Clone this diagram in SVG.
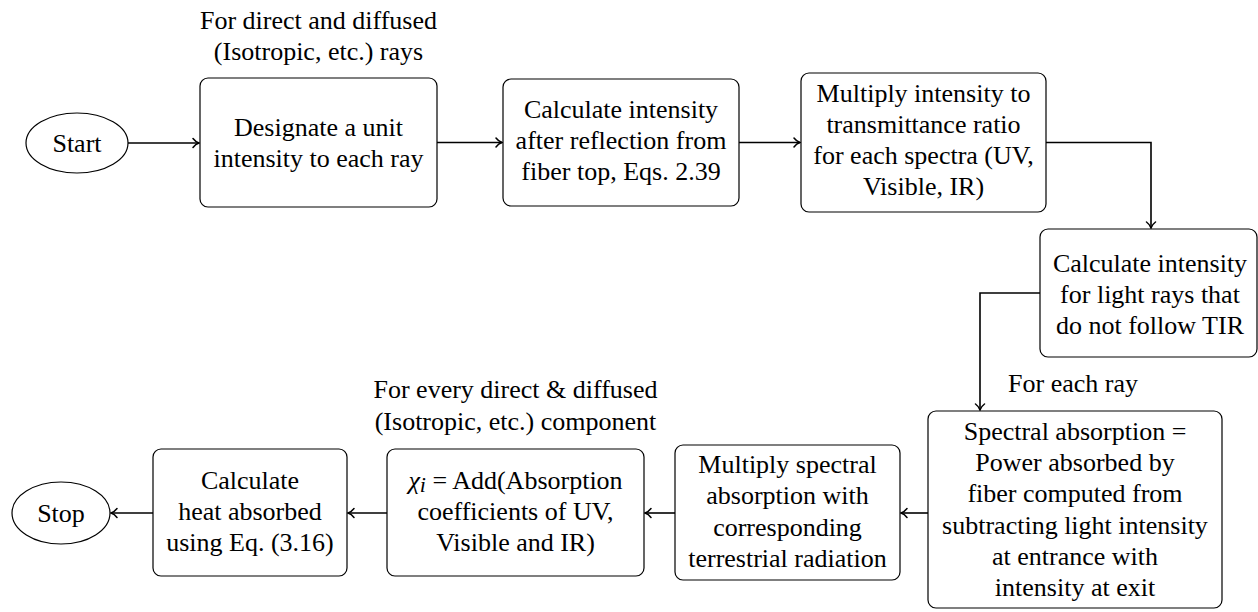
<svg xmlns="http://www.w3.org/2000/svg" width="1258" height="612" viewBox="0 0 1258 612">
<style>
  .box { fill: #fff; stroke: #000; stroke-width: 1.2; }
  .t { font-family: 'Liberation Serif', 'Times New Roman', serif; font-size: 26px; fill: #000; text-anchor: middle; }
  .c { fill: none; stroke: #000; stroke-width: 1.6; marker-end: url(#arr); }
</style>
<defs>
  <marker id="arr" viewBox="-7 -6 9 12" refX="0" refY="0" markerWidth="9" markerHeight="12" markerUnits="userSpaceOnUse" orient="auto">
    <path d="M-6,-4.5 C-4,-1.8 -1.8,-0.6 0,0 C-1.8,0.6 -4,1.8 -6,4.5" fill="none" stroke="#000" stroke-width="1.5" stroke-linecap="round"/>
  </marker>
</defs>
<rect width="1258" height="612" fill="#fff"/>

<g id="connectors">
  <path class="c" d="M128,143 H199"/>
  <path class="c" d="M437,142.5 H502"/>
  <path class="c" d="M739,142.5 H800"/>
  <path class="c" d="M1046,142.5 H1151 V228"/>
  <path class="c" d="M1040,293 H980 V410"/>
  <path class="c" d="M928,513 H901"/>
  <path class="c" d="M675,513 H645"/>
  <path class="c" d="M387,513 H348"/>
  <path class="c" d="M153,513 H111"/>
</g>

<g id="start">
  <ellipse class="box" cx="77" cy="143" rx="51" ry="30"/>
  <text class="t" x="77" y="151.5" font-family="Liberation Serif">Start</text>
</g>

<g id="label-direct" font-family="Liberation Serif">
  <text class="t" x="318.5" y="29">For direct and diffused</text>
  <text class="t" x="318.5" y="60">(Isotropic, etc.) rays</text>
</g>

<g id="box1" font-family="Liberation Serif">
  <rect class="box" x="200" y="78" width="237" height="129" rx="8"/>
  <text class="t" x="318.5" y="135.5">Designate a unit</text>
  <text class="t" x="318.5" y="166.5">intensity to each ray</text>
</g>

<g id="box2" font-family="Liberation Serif">
  <rect class="box" x="503" y="79" width="236" height="127" rx="8"/>
  <text class="t" x="621" y="118">Calculate intensity</text>
  <text class="t" x="621" y="149">after reflection from</text>
  <text class="t" x="621" y="180">fiber top, Eqs. 2.39</text>
</g>

<g id="box3" font-family="Liberation Serif">
  <rect class="box" x="801" y="73" width="245" height="139" rx="8"/>
  <text class="t" x="923.5" y="101.5">Multiply intensity to</text>
  <text class="t" x="923.5" y="132.8">transmittance ratio</text>
  <text class="t" x="923.5" y="164">for each spectra (UV,</text>
  <text class="t" x="923.5" y="195.3">Visible, IR)</text>
</g>

<g id="box4" font-family="Liberation Serif">
  <rect class="box" x="1040" y="229" width="217" height="128" rx="8"/>
  <text class="t" x="1150" y="271.5">Calculate intensity</text>
  <text class="t" x="1150" y="302.5">for light rays that</text>
  <text class="t" x="1150" y="333.5">do not follow TIR</text>
</g>

<g id="label-each" font-family="Liberation Serif">
  <text class="t" x="1073" y="392">For each ray</text>
</g>

<g id="box5" font-family="Liberation Serif">
  <rect class="box" x="928" y="411" width="294" height="197" rx="8"/>
  <text class="t" x="1075" y="439.5">Spectral absorption =</text>
  <text class="t" x="1075" y="471">Power absorbed by</text>
  <text class="t" x="1075" y="502.2">fiber computed from</text>
  <text class="t" x="1075" y="533.5">subtracting light intensity</text>
  <text class="t" x="1075" y="564.8">at entrance with</text>
  <text class="t" x="1075" y="596">intensity at exit</text>
</g>

<g id="box6" font-family="Liberation Serif">
  <rect class="box" x="675" y="445" width="225" height="135" rx="8"/>
  <text class="t" x="787.5" y="473">Multiply spectral</text>
  <text class="t" x="787.5" y="504.3">absorption with</text>
  <text class="t" x="787.5" y="535.6">corresponding</text>
  <text class="t" x="787.5" y="566.9">terrestrial radiation</text>
</g>

<g id="label-every" font-family="Liberation Serif">
  <text class="t" x="515.5" y="398">For every direct &amp; diffused</text>
  <text class="t" x="515.5" y="430">(Isotropic, etc.) component</text>
</g>

<g id="box7" font-family="Liberation Serif">
  <rect class="box" x="387" y="449" width="257" height="127" rx="8"/>
  <text class="t" x="515.5" y="488.5"><tspan font-style="italic">χ</tspan><tspan font-style="italic" font-size="22" dy="3">i</tspan><tspan dy="-3"> = Add(Absorption</tspan></text>
  <text class="t" x="515.5" y="519.8">coefficients of UV,</text>
  <text class="t" x="515.5" y="551">Visible and IR)</text>
</g>

<g id="box8" font-family="Liberation Serif">
  <rect class="box" x="153" y="449" width="194" height="127" rx="8"/>
  <text class="t" x="250" y="488.5">Calculate</text>
  <text class="t" x="250" y="519.8">heat absorbed</text>
  <text class="t" x="250" y="551">using Eq. (3.16)</text>
</g>

<g id="stop">
  <ellipse class="box" cx="61" cy="513" rx="49" ry="31"/>
  <text class="t" x="61" y="521.5">Stop</text>
</g>
</svg>
